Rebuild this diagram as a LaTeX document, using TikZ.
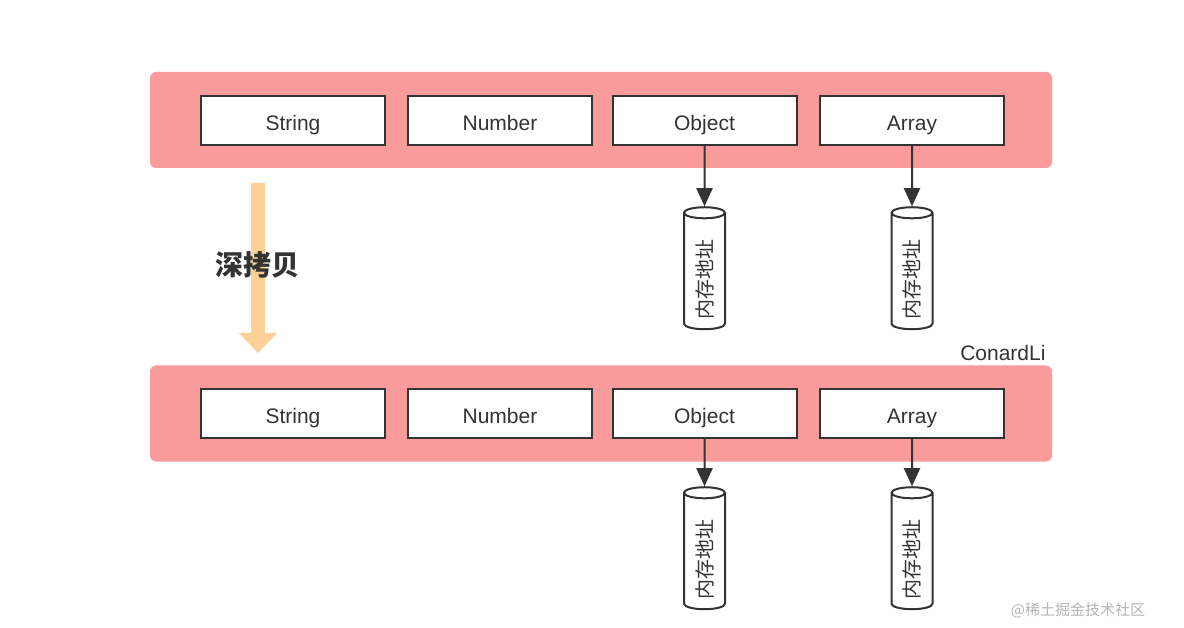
\documentclass[tikz,border=0pt]{standalone}
\usepackage{fontspec}
\setmainfont{Liberation Sans}
\newfontfamily\cjk{Noto Sans CJK SC}
\usetikzlibrary{shapes.geometric,arrows.meta}
\definecolor{bandpink}{HTML}{F99B9B}
\definecolor{copyorange}{HTML}{FCD096}
\definecolor{ink}{HTML}{333333}
\definecolor{markgray}{HTML}{B4B4B4}

\begin{document}
\begin{tikzpicture}[x=1pt,y=-1pt,
  band/.style={fill=bandpink,rounded corners=6pt,minimum width=902pt,minimum height=96pt,inner sep=0pt},
  field/.style={draw=ink,line width=2pt,fill=white,minimum width=184pt,minimum height=49pt,inner sep=0pt,text height=20pt,text depth=0pt,text=ink,font=\fontsize{21pt}{25pt}\selectfont},
  mem/.style={cylinder,draw=ink,line width=2pt,fill=white,shape border rotate=90,aspect=0.6,minimum width=41pt,minimum height=122pt,inner sep=0pt,text=ink,font=\cjk\fontsize{20pt}{24pt}\selectfont},
  link/.style={draw=ink,line width=2pt,-{Triangle[length=18pt,width=16pt]}}]
\useasboundingbox (0,0) rectangle (1184,628);
\node[band] (band1) at (601,120){};
\node[band] (band2) at (601,413.5){};
\node[field] (s1) at (293,120.5){String};
\node[field] (n1) at (500,120.5){Number};
\node[field] (o1) at (704.5,120.5){Object};
\node[field] (a1) at (912,120.5){Array};
\node[field] (s2) at (293,413.5){String};
\node[field] (n2) at (500,413.5){Number};
\node[field] (o2) at (704.5,413.5){Object};
\node[field] (a2) at (912,413.5){Array};
\node[mem] (m1) at (704.5,271.5){\rotatebox{90}{内存地址\kern16pt}};
\node[mem] (m2) at (912,271.5){\rotatebox{90}{内存地址\kern16pt}};
\node[mem] (m3) at (704.5,551.5){\rotatebox{90}{内存地址\kern16pt}};
\node[mem] (m4) at (912,551.5){\rotatebox{90}{内存地址\kern16pt}};
\draw[link] (o1.south) -- (m1);
\draw[link] (a1.south) -- (m2);
\draw[link] (o2.south) -- (m3);
\draw[link] (a2.south) -- (m4);
\coordinate (c1) at (258,183);
\coordinate (c2) at (258,353);
\draw[copyorange,line width=14pt,-{Triangle[length=20pt,width=37pt]}] (c1) -- (c2);
\node[text=ink,font=\cjk\bfseries\fontsize{28pt}{32pt}\selectfont] (deep) at (257,265){深拷贝};
\node[anchor=east,text=ink,font=\fontsize{21pt}{25pt}\selectfont] (author) at (1049,353){ConardLi};
\node[text=markgray,font=\cjk\fontsize{15pt}{18pt}\selectfont] (mark) at (1078,610){@稀土掘金技术社区};
\end{tikzpicture}
\end{document}
